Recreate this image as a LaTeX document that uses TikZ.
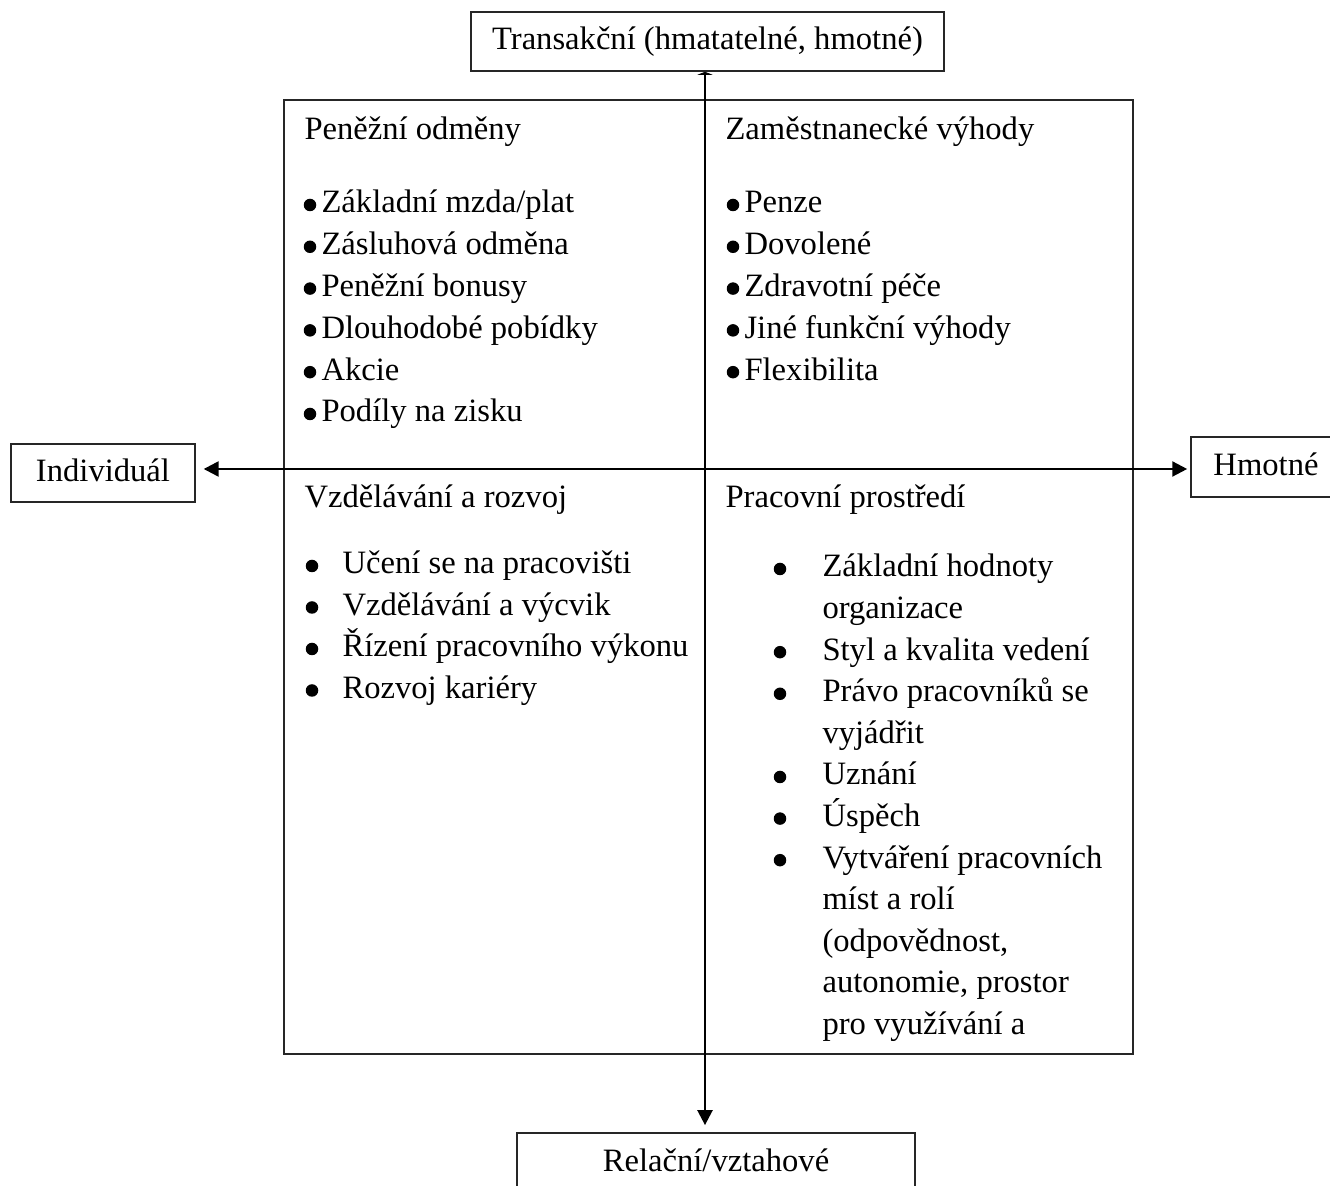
\documentclass[tikz,border=0pt]{standalone}
\usepackage{fontspec}
\setmainfont{Liberation Serif}
\usetikzlibrary{arrows.meta}
% one drawing unit, also used for node sizes
\newcommand{\pxu}{0.368pt}
\begin{document}
\begin{tikzpicture}[x=0.368pt,y=-0.368pt,
  every node/.style={font=\fontsize{12}{14}\selectfont, inner sep=0pt},
  labelbox/.style={draw=black!85, line width=0.6pt, text height=8.3pt, text depth=2.3pt},
  axis/.style={line width=0.9pt, draw=black},
  head/.style={-{Triangle[length=5.5pt,width=5.5pt]}},
  item/.style={anchor=base west},
  dot/.style={circle, fill=black, minimum size=12.5*\pxu, inner sep=0pt}
]
\useasboundingbox (0,0) rectangle (1330,1186);
\clip (0,0) rectangle (1330,1186);

% outer frame of the four quadrants
\node[draw=black!85, line width=0.7pt, minimum width=849*\pxu, minimum height=954*\pxu] (frame) at (708.5,577) {};

% axis end labels
\node[labelbox, minimum width=473*\pxu, minimum height=59*\pxu] (trans) at (707.5,41.5) {Transakční (hmatatelné, hmotné)};
\node[labelbox, minimum width=184*\pxu, minimum height=58*\pxu] (indiv) at (103,473) {Individuál};
\node[labelbox, minimum width=150*\pxu, minimum height=60*\pxu] (hmot) at (1266,467) {Hmotné};
\node[labelbox, minimum width=398*\pxu, minimum height=60*\pxu] (rel) at (716,1163) {Relační/vztahové};

% axes through the centre
\coordinate (o) at (705,469);
\draw[axis, -{Triangle[length=1.1pt,width=5.5pt]}] (o) -- (o |- trans.south);
\draw[axis, head, shorten >=2.6pt] (o) -- (o |- rel.north);
\draw[axis, head, shorten >=2.9pt] (o) -- (o -| indiv.east);
\draw[axis, head, shorten >=1.1pt] (o) -- (o -| hmot.west);

% quadrant headings
\node[item] (h1) at (304,140) {Peněžní odměny};
\node[item] (h2) at (725,140) {Zaměstnanecké výhody};
\node[item] (h3) at (304,508) {Vzdělávání a rozvoj};
\node[item] (h4) at (725,508) {Pracovní prostředí};

% top left list
\foreach \t [count=\i from 0] in {Základní mzda/plat, Zásluhová odměna, Peněžní bonusy, Dlouhodobé pobídky, Akcie, Podíly na zisku} {
  \node[dot] (ab\i) at (310,{205+41.8*\i}) {};
  \node[item] (at\i) at (321,{213+41.8*\i}) {\t};
}

% top right list
\foreach \t [count=\i from 0] in {Penze, Dovolené, Zdravotní péče, Jiné funkční výhody, Flexibilita} {
  \node[dot] (bb\i) at (733,{205+41.8*\i}) {};
  \node[item] (bt\i) at (744,{213+41.8*\i}) {\t};
}

% bottom left list
\foreach \t [count=\i from 0] in {Učení se na pracovišti, Vzdělávání a výcvik, Řízení pracovního výkonu, Rozvoj kariéry} {
  \node[dot] (cb\i) at (312,{566+41.5*\i}) {};
  \node[item] (ct\i) at (342,{574+41.5*\i}) {\t};
}

% bottom right list (1 = line opens a new bullet)
\foreach \b/\t [count=\i from 0] in {1/Základní hodnoty, 0/organizace, 1/Styl a kvalita vedení, 1/Právo pracovníků se, 0/vyjádřit, 1/Uznání, 1/Úspěch, 1/Vytváření pracovních, 0/míst a rolí, 0/{(odpovědnost,}, 0/{autonomie, prostor}, 0/pro využívání a} {
  \ifnum\b=1
    \node[dot] (db\i) at (780,{569+41.6*\i}) {};
  \fi
  \node[item] (dt\i) at (822,{577+41.6*\i}) {\t};
}
\end{tikzpicture}
\end{document}
